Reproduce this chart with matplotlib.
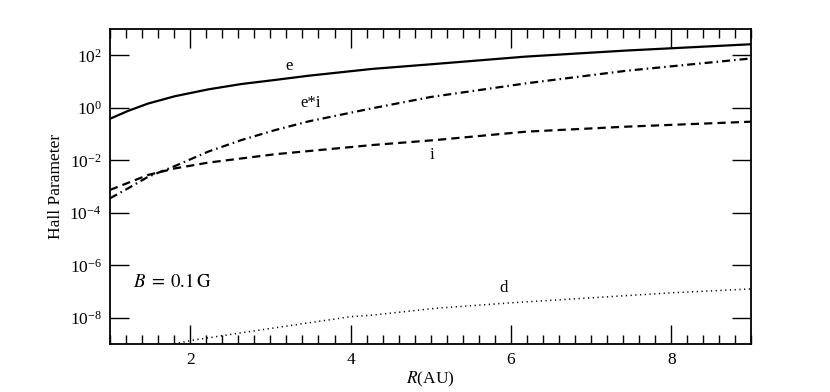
import numpy as np
import matplotlib
matplotlib.use("Agg")
import matplotlib.pyplot as plt
from matplotlib.ticker import MultipleLocator, FixedLocator, NullLocator

plt.rcParams['font.family'] = ['Liberation Serif', 'DejaVu Serif']
plt.rcParams['mathtext.fontset'] = 'stix'

# values (log10 of Hall parameter vs R in AU)
r_e = [1.0, 1.225, 1.475, 1.81, 2.225, 2.64, 3.06, 3.475, 4.27, 5.06, 6.19, 7.44, 9.0]
log_e = [-0.42, -0.12, 0.16, 0.44, 0.70, 0.905, 1.06, 1.22, 1.48, 1.67, 1.95, 2.18, 2.42]

r_ei = [1.0, 1.225, 1.475, 1.81, 2.225, 2.64, 3.06, 3.475, 4.27, 5.0, 6.19, 7.44, 9.0]
log_ei = [-3.45, -3.07, -2.63, -2.22, -1.67, -1.23, -0.85, -0.52, -0.02, 0.41, 0.93, 1.41, 1.88]

r_i = [1.0, 1.225, 1.475, 1.81, 2.225, 2.64, 3.06, 3.475, 4.27, 5.06, 6.19, 7.44, 9.0]
log_i = [-3.13, -2.86, -2.56, -2.31, -2.09, -1.93, -1.77, -1.65, -1.42, -1.23, -0.91, -0.72, -0.53]

r_d = [1.8, 2.0, 2.6, 3.44, 4.0, 4.27, 5.06, 6.0, 8.0, 9.0]
log_d = [-9.0, -8.87, -8.59, -8.21, -7.96, -7.90, -7.64, -7.43, -7.05, -6.90]

fig = plt.figure(figsize=(8.3, 3.92), dpi=100)
ax = fig.add_axes([0.1325, 0.1224, 0.7729, 0.8036])

ax.plot(r_e, 10 ** np.array(log_e), color='k', lw=1.6)
ax.plot(r_ei, 10 ** np.array(log_ei), color='k', lw=1.6, dashes=(3.6, 1.8, 0.7, 1.8))
ax.plot(r_i, 10 ** np.array(log_i), color='k', lw=1.6, dashes=(3.7, 2.3))
ax.plot(r_d, 10 ** np.array(log_d), color='k', lw=1.1, dashes=(0.8, 2.3))

ax.set_yscale('log')
ax.set_xlim(1, 9)
ax.set_ylim(1e-9, 1e3)

ax.xaxis.set_major_locator(FixedLocator([2, 4, 6, 8]))
ax.xaxis.set_minor_locator(MultipleLocator(0.2))
ax.yaxis.set_major_locator(FixedLocator([1e-8, 1e-6, 1e-4, 1e-2, 1e0, 1e2]))
ax.yaxis.set_minor_locator(NullLocator())

ax.tick_params(which='both', direction='in', top=True, right=True, width=1.0,
               labelsize=12.5, pad=6)
ax.tick_params(which='major', length=14)
ax.tick_params(which='minor', length=6.5)
for s in ax.spines.values():
    s.set_linewidth(1.3)

ax.set_ylabel('Hall Parameter', fontsize=12.5, labelpad=4)
ax.set_xlabel(r'$R$(AU)', fontsize=12.5, labelpad=1)

ax.text(3.23, 10 ** 1.6, 'e', fontsize=12, ha='center', va='center')
ax.text(3.5, 10 ** 0.19, 'e*i', fontsize=12, ha='center', va='center')
ax.text(5.02, 10 ** -1.8, 'i', fontsize=12, ha='center', va='center')
ax.text(5.91, 10 ** -6.87, 'd', fontsize=12, ha='center', va='center')
ax.text(1.29, 10 ** -6.64, r'$B\;=\;0.1\,\mathrm{G}$', fontsize=13.5, ha='left', va='center')

fig.savefig('out.png', dpi=100)
